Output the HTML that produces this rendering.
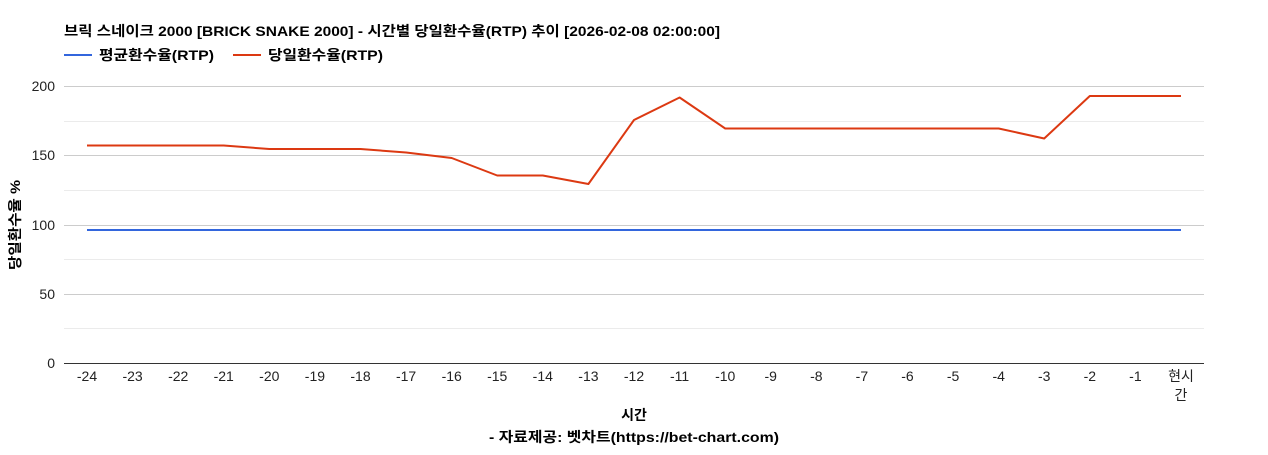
<!DOCTYPE html>
<html><head><meta charset="utf-8"><style>
body{margin:0;background:#fff;}
svg text{font-family:"Liberation Sans","Noto Sans CJK KR",sans-serif;}
</style></head><body>
<svg width="1268" height="450" xmlns="http://www.w3.org/2000/svg">
<rect width="1268" height="450" fill="#fff"/>
<text x="64" y="36" font-size="14" font-weight="bold" fill="#000" textLength="656" lengthAdjust="spacingAndGlyphs">브릭 스네이크 2000 [BRICK SNAKE 2000] - 시간별 당일환수율(RTP) 추이 [2026-02-08 02:00:00]</text>
<line x1="64" y1="55" x2="92" y2="55" stroke="#3366dd" stroke-width="2"/>
<text x="99" y="60" font-size="14" font-weight="bold" textLength="115" lengthAdjust="spacingAndGlyphs">평균환수율(RTP)</text>
<line x1="233" y1="55" x2="261" y2="55" stroke="#dc3912" stroke-width="2"/>
<text x="268" y="60" font-size="14" font-weight="bold" textLength="115" lengthAdjust="spacingAndGlyphs">당일환수율(RTP)</text>
<g stroke="#ccc" stroke-width="1">
<line x1="64" y1="86.5" x2="1204" y2="86.5"/>
<line x1="64" y1="155.5" x2="1204" y2="155.5"/>
<line x1="64" y1="225.5" x2="1204" y2="225.5"/>
<line x1="64" y1="294.5" x2="1204" y2="294.5"/>
</g>
<g stroke="#ebebeb" stroke-width="1">
<line x1="64" y1="121.5" x2="1204" y2="121.5"/>
<line x1="64" y1="190.5" x2="1204" y2="190.5"/>
<line x1="64" y1="259.5" x2="1204" y2="259.5"/>
<line x1="64" y1="328.5" x2="1204" y2="328.5"/>
</g>
<line x1="64" y1="363.5" x2="1204" y2="363.5" stroke="#333"/>
<g font-size="14" text-anchor="end" fill="#222">
<text x="55" y="91">200</text><text x="55" y="160">150</text><text x="55" y="230">100</text><text x="55" y="299">50</text><text x="55" y="368">0</text>
</g>
<text transform="translate(20,225) rotate(-90)" font-size="14" font-weight="bold" text-anchor="middle" textLength="90" lengthAdjust="spacingAndGlyphs">당일환수율 %</text>
<g font-size="14" text-anchor="middle" fill="#222">
<text x="87" y="381">-24</text><text x="132.6" y="381">-23</text><text x="178.2" y="381">-22</text><text x="223.7" y="381">-21</text><text x="269.3" y="381">-20</text><text x="314.9" y="381">-19</text><text x="360.5" y="381">-18</text><text x="406.1" y="381">-17</text><text x="451.7" y="381">-16</text><text x="497.2" y="381">-15</text><text x="542.8" y="381">-14</text><text x="588.4" y="381">-13</text><text x="634" y="381">-12</text><text x="679.6" y="381">-11</text><text x="725.2" y="381">-10</text><text x="770.7" y="381">-9</text><text x="816.3" y="381">-8</text><text x="861.9" y="381">-7</text><text x="907.5" y="381">-6</text><text x="953.1" y="381">-5</text><text x="998.7" y="381">-4</text><text x="1044.2" y="381">-3</text><text x="1089.8" y="381">-2</text><text x="1135.4" y="381">-1</text><text x="1181" y="381">현시</text><text x="1181" y="400">간</text>
</g>
<text x="634" y="420" font-size="14" font-weight="bold" text-anchor="middle">시간</text>
<text x="634" y="442" font-size="14" font-weight="bold" text-anchor="middle" textLength="290" lengthAdjust="spacingAndGlyphs">- 자료제공: 벳차트(https://bet-chart.com)</text>
<line x1="87" y1="230" x2="1181" y2="230" stroke="#3366dd" stroke-width="2"/>
<polyline fill="none" stroke="#dc3912" stroke-width="2" stroke-linejoin="round" points="87,145.5 132.6,145.5 178.2,145.5 223.7,145.5 269.3,149 314.9,149 360.5,149 406.1,152.5 451.7,158 497.2,175.5 542.8,175.5 588.4,184 634,120 679.6,97.5 725.2,128.5 770.7,128.5 816.3,128.5 861.9,128.5 907.5,128.5 953.1,128.5 998.7,128.5 1044.2,138.5 1089.8,96 1135.4,96 1181,96"/>
</svg>
</body></html>
